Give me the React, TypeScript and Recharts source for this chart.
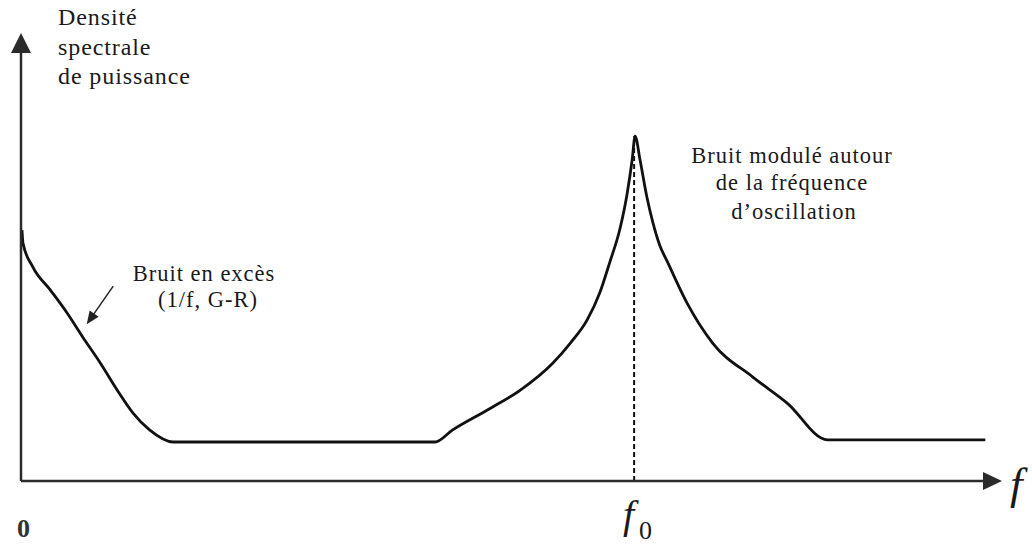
import { LineChart, Line, XAxis, YAxis, ReferenceLine } from "recharts";

// frequency (0..1000 arbitrary units) and power spectral density (0..100)
const freqs = [
  1, 2, 12, 30, 47, 63, 81, 98, 114, 131, 155, 422, 440, 475, 509, 542, 560, 577,
  590, 600, 611, 618, 623, 626, 631, 638, 644, 651, 659, 679, 705, 746, 781, 822, 983,
];
const density = [
  56.0, 53.1, 47.8, 42.6, 37.5, 32.1, 26.3, 20.3, 15.2, 11.4, 8.7, 8.7, 11.4, 15.8,
  20.3, 26.3, 30.8, 35.9, 42.0, 48.7, 56.7, 64.3, 71.7, 77.0, 71.7, 63.4, 57.8,
  52.7, 48.9, 39.7, 30.8, 23.2, 17.4, 9.2, 9.2,
];
const peakFreq = 625;
const peakDensity = 77;
const excessArrow = [
  { x: 94, y: 43.5 },
  { x: 67, y: 35.0 },
];

const data = freqs.map((x, i) => ({ x, y: density[i] }));

const INK = "#111";
const AXIS = "#2b2b2b";
const SERIF = '"Liberation Serif", "DejaVu Serif", "Times New Roman", serif';

type Seg = { x1?: number; y1?: number; x2?: number; y2?: number };

// line ending in a filled triangular head at (x2, y2)
function arrowShape(len: number, half: number, stroke: string, width: number) {
  return (p: Seg) => {
    const x1 = Number(p.x1), y1 = Number(p.y1), x2 = Number(p.x2), y2 = Number(p.y2);
    const dx = x2 - x1, dy = y2 - y1;
    const d = Math.hypot(dx, dy) || 1;
    const ux = dx / d, uy = dy / d;
    const bx = x2 - ux * len, by = y2 - uy * len;
    const pts = `${x2},${y2} ${bx - uy * half},${by + ux * half} ${bx + uy * half},${by - ux * half}`;
    return (
      <g>
        <line x1={x1} y1={y1} x2={bx + ux * 2} y2={by + uy * 2} stroke={stroke} strokeWidth={width} />
        <polygon points={pts} fill={stroke} />
      </g>
    );
  };
}

const txt = (size: number, extra: React.CSSProperties = {}): React.CSSProperties => ({
  fontFamily: SERIF,
  fontSize: size,
  ...extra,
});

export default function App() {
  return (
    <div style={{ position: "absolute", left: 0, top: 0, width: 1032, height: 544, overflow: "hidden", background: "#fff" }}>
      <LineChart
        width={1032}
        height={544}
        data={data}
        margin={{ top: 33, right: 30, left: 21, bottom: 63 }}
      >
        <XAxis type="number" dataKey="x" domain={[0, 1000]} hide />
        <YAxis type="number" domain={[0, 100]} hide />
        <ReferenceLine
          segment={[{ x: peakFreq, y: 0 }, { x: peakFreq, y: peakDensity }]}
          stroke={INK}
          strokeWidth={2}
          strokeDasharray="5 3"
          ifOverflow="visible"
        />
        <Line
          type="monotone"
          dataKey="y"
          stroke={INK}
          strokeWidth={2.8}
          dot={false}
          activeDot={false}
          isAnimationActive={false}
        />
        <ReferenceLine
          segment={[{ x: 0, y: 0 }, { x: 0, y: 100 }]}
          ifOverflow="visible"
          shape={arrowShape(20, 10, AXIS, 2.5)}
        />
        <ReferenceLine
          segment={[{ x: 0, y: 0 }, { x: 1000, y: 0 }]}
          ifOverflow="visible"
          shape={arrowShape(19, 9, AXIS, 2.5)}
        />
        <ReferenceLine
          segment={excessArrow}
          ifOverflow="visible"
          shape={arrowShape(13, 5.5, "#222", 1.5)}
        />
      </LineChart>
      <svg
        width={1032}
        height={544}
        style={{ position: "absolute", left: 0, top: 0, pointerEvents: "none" }}
        fill="#1a1a1a"
      >
        <g style={txt(24, { letterSpacing: 0.9 })}>
          <text x={58} y={25}>Densité</text>
          <text x={58} y={55}>spectrale</text>
          <text x={58} y={84}>de puissance</text>
        </g>
        <g style={txt(22.5, { letterSpacing: 1 })} textAnchor="middle">
          <text x={204} y={281}>Bruit en excès</text>
          <text x={208} y={307}>(1/f, G-R)</text>
          <text x={792} y={163}>Bruit modulé autour</text>
          <text x={792} y={190}>de la fréquence</text>
          <text x={794} y={219}>d’oscillation</text>
        </g>
        <text x={1010} y={499} style={txt(45, { fontStyle: "italic" })}>f</text>
        <text x={623} y={528} style={txt(40, { fontStyle: "italic" })}>f</text>
        <text x={639} y={539} style={txt(26)}>0</text>
        <text x={17} y={537} style={txt(26, { fontWeight: 600 })} fill="#333">0</text>
      </svg>
    </div>
  );
}
